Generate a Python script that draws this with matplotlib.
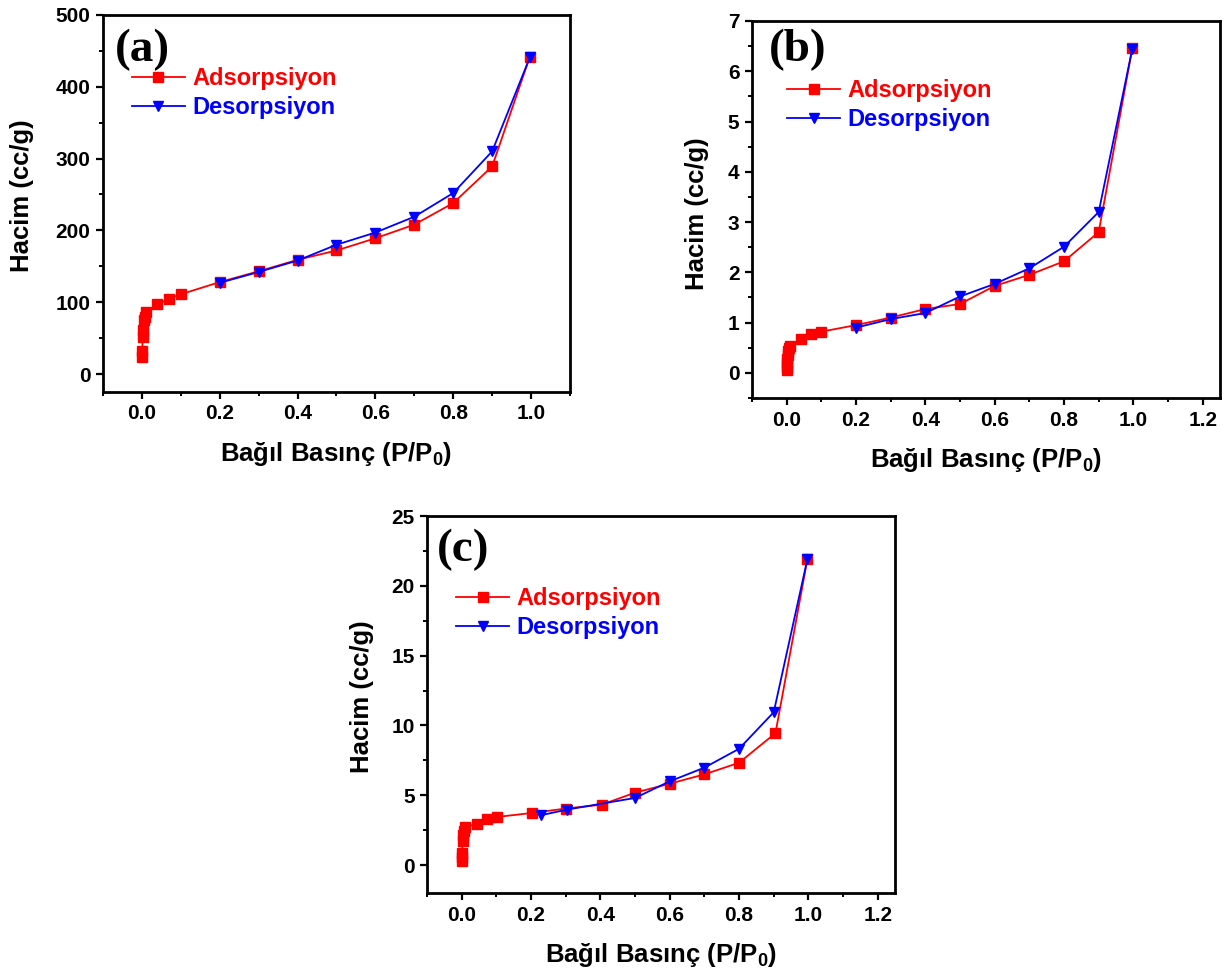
import matplotlib
matplotlib.use("Agg")
import matplotlib.pyplot as plt
from matplotlib.ticker import MultipleLocator

plt.rcParams['font.family'] = ['Liberation Sans', 'DejaVu Sans']
plt.rcParams['font.weight'] = 'bold'
plt.rcParams['mathtext.fontset'] = 'custom'
plt.rcParams['mathtext.rm'] = 'Liberation Sans:bold'
plt.rcParams['mathtext.it'] = 'Liberation Sans:bold'
plt.rcParams['mathtext.bf'] = 'Liberation Sans:bold'

# panel (a)
a_ads_x = [0.0005, 0.001, 0.002, 0.003, 0.005, 0.008, 0.01, 0.04, 0.07, 0.1,
           0.2, 0.3, 0.4, 0.5, 0.6, 0.7, 0.8, 0.9, 0.997]
a_ads_y = [23, 32, 52, 61, 75, 80, 86, 97, 105, 111,
           128, 143, 159, 172, 189, 208, 238, 289, 442]
a_des_x = [0.997, 0.9, 0.8, 0.7, 0.6, 0.5, 0.4, 0.3, 0.2]
a_des_y = [441, 310, 252, 219, 197, 180, 158, 142, 127]

# panel (b)
b_ads_x = [0.0003, 0.0006, 0.001, 0.002, 0.003, 0.005, 0.008, 0.01, 0.04, 0.07, 0.1,
           0.2, 0.3, 0.4, 0.5, 0.6, 0.7, 0.8, 0.9, 0.997]
b_ads_y = [0.05, 0.12, 0.2, 0.28, 0.36, 0.43, 0.5, 0.53, 0.68, 0.77, 0.82,
           0.95, 1.10, 1.27, 1.37, 1.73, 1.95, 2.22, 2.80, 6.46]
b_des_x = [0.997, 0.9, 0.8, 0.7, 0.6, 0.5, 0.4, 0.3, 0.2]
b_des_y = [6.45, 3.20, 2.51, 2.08, 1.77, 1.52, 1.19, 1.07, 0.90]

# panel (c)
c_ads_x = [0.0003, 0.0006, 0.001, 0.003, 0.005, 0.008, 0.01, 0.045, 0.074, 0.103,
           0.204, 0.3, 0.404, 0.5, 0.6, 0.7, 0.8, 0.905, 0.997]
c_ads_y = [0.3, 0.55, 0.85, 1.75, 2.15, 2.45, 2.72, 2.97, 3.31, 3.45,
           3.74, 4.05, 4.33, 5.19, 5.83, 6.5, 7.33, 9.45, 21.9]
c_des_x = [0.997, 0.9, 0.8, 0.7, 0.6, 0.5, 0.305, 0.228]
c_des_y = [21.9, 10.95, 8.33, 6.98, 6.0, 4.81, 3.98, 3.57]

panels = [
    # label, rect, data, xlim, ylim, last x tick, y major, y minor,
    # panel label pos, legend pos, ylabel pos
    ("(a)", [0.0837, 0.5984, 0.3797, 0.3863], (a_ads_x, a_ads_y, a_des_x, a_des_y),
     (-0.1, 1.1), (-25, 500), 1.0, 100, 50, (0.026, 0.907), (0.062, 0.862), (-0.173, 0.52)),
    ("(b)", [0.6114, 0.5922, 0.3805, 0.3863], (b_ads_x, b_ads_y, b_des_x, b_des_y),
     (-0.1, 1.25), (-0.5, 7), 1.2, 1, 0.5, (0.036, 0.923), (0.075, 0.846), (-0.118, 0.49)),
    ("(c)", [0.3472, 0.0850, 0.3805, 0.3863], (c_ads_x, c_ads_y, c_des_x, c_des_y),
     (-0.1, 1.25), (-2, 25), 1.2, 5, 2.5, (0.021, 0.91), (0.062, 0.812), (-0.139, 0.52)),
]

fig = plt.figure(figsize=(12.3, 9.76), dpi=100)

for name, rect, d, xl, yl, xtop, ymaj, ymin, lab, leg, ylpos in panels:
    ax = fig.add_axes(rect)
    ax_x, ax_y, de_x, de_y = d
    ax.plot(ax_x, ax_y, color='red', lw=1.3, marker='s', ms=6.5, mec='red',
            label='Adsorpsiyon')
    ax.plot(de_x, de_y, color='blue', lw=1.3, marker='v', ms=7.5, mec='blue',
            label='Desorpsiyon')
    ax.set_xlim(*xl)
    ax.set_ylim(*yl)
    ax.set_xticks([round(0.2 * i, 1) for i in range(int(round(xtop / 0.2)) + 1)])
    ax.xaxis.set_minor_locator(MultipleLocator(0.1))
    ax.yaxis.set_major_locator(MultipleLocator(ymaj))
    ax.yaxis.set_minor_locator(MultipleLocator(ymin))
    ax.set_yticks([t for t in ax.get_yticks() if yl[0] <= t <= yl[1]])
    ax.tick_params(which='major', direction='out', length=5, width=1.6,
                   labelsize=15, pad=4)
    ax.tick_params(which='minor', direction='out', length=3, width=1.4)
    for s in ax.spines.values():
        s.set_linewidth(2.0)
    ax.set_xlabel(r'Bağıl Basınç (P/P$_0$)', fontsize=18.5, fontweight='bold')
    ax.set_ylabel('Hacim (cc/g)', fontsize=18.5, fontweight='bold')
    ax.xaxis.set_label_coords(0.5, -0.165)
    ax.xaxis.label.set_va('center')
    ax.yaxis.set_label_coords(*ylpos)
    ax.yaxis.label.set_va('center')
    ax.text(lab[0], lab[1], name, transform=ax.transAxes, ha='left', va='center',
            fontsize=34, fontweight='bold', family=['Liberation Serif'])
    lg = ax.legend(loc='upper left', bbox_to_anchor=leg, frameon=False,
                   borderaxespad=0, borderpad=0, handlelength=2.25,
                   handletextpad=0.3, labelspacing=0.27,
                   prop={'size': 17, 'weight': 'bold'})
    for t, c in zip(lg.get_texts(), ['red', 'blue']):
        t.set_color(c)

fig.savefig('out.png', dpi=100)
